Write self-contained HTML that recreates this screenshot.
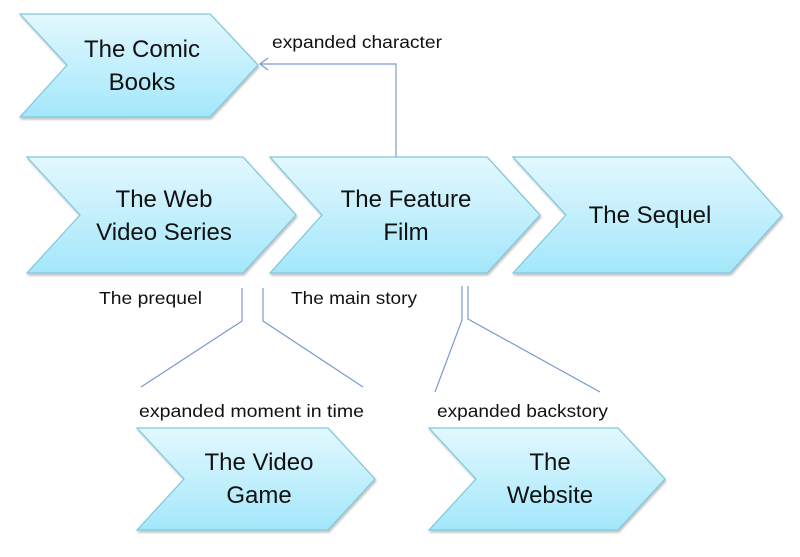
<!DOCTYPE html>
<html><head><style>html,body{margin:0;padding:0;background:#fff;}svg{display:block}</style></head>
<body>
<svg width="800" height="557" viewBox="0 0 800 557" xmlns="http://www.w3.org/2000/svg" font-family="Liberation Sans, sans-serif">
<defs>
<linearGradient id="g" x1="0" y1="0" x2="0" y2="1">
<stop offset="0" stop-color="#e3f8fe"/><stop offset="1" stop-color="#a3e7fb"/>
</linearGradient>
<filter id="s" x="-5%" y="-5%" width="110%" height="115%"><feDropShadow dx="1" dy="2" stdDeviation="1" flood-color="#000" flood-opacity="0.25"/></filter>
</defs>
<g fill="url(#g)" stroke="#7ec6dc" stroke-width="1.2" filter="url(#s)">
<polygon points="20,14 210,14 258,65 210,117 20,117 67,65"/>
<polygon points="27,157 243,157 296,215 243,273 27,273 80,215"/>
<polygon points="270,157 487,157 540,215 487,273 270,273 322,215"/>
<polygon points="513,157 730,157 782,215 730,273 513,273 566,215"/>
<polygon points="137,428 328,428 375,479 328,530 137,530 184,479"/>
<polygon points="429,428 618,428 665,479 618,530 429,530 476,479"/>
</g>
<g fill="none" stroke="#7a9bd0" stroke-width="1.2">
<polyline points="396,157 396,64 260,64"/>
<polyline points="268,58 260,64 268,70"/>
<polyline points="242,288 242,321 141,387"/>
<polyline points="263,288 263,321 363,387"/>
<polyline points="462,286 462,320 435,392"/>
<polyline points="468,286 468,319 600,392"/>
</g>
<g font-size="24" fill="#111" text-anchor="middle">
<text x="142" y="57">The Comic</text><text x="142" y="90">Books</text>
<text x="164" y="207">The Web</text><text x="164" y="240">Video Series</text>
<text x="406" y="207">The Feature</text><text x="406" y="240">Film</text>
<text x="650" y="223">The Sequel</text>
<text x="259" y="470">The Video</text><text x="259" y="503">Game</text>
<text x="550" y="470">The</text><text x="550" y="503">Website</text>
</g>
<g font-size="17.5" fill="#111">
<text x="272" y="48" textLength="170" lengthAdjust="spacingAndGlyphs">expanded character</text>
<text x="99" y="304" textLength="103" lengthAdjust="spacingAndGlyphs">The prequel</text>
<text x="291" y="304" textLength="126" lengthAdjust="spacingAndGlyphs">The main story</text>
<text x="139" y="417" textLength="225" lengthAdjust="spacingAndGlyphs">expanded moment in time</text>
<text x="437" y="417" textLength="171" lengthAdjust="spacingAndGlyphs">expanded backstory</text>
</g>
</svg>
</body></html>
